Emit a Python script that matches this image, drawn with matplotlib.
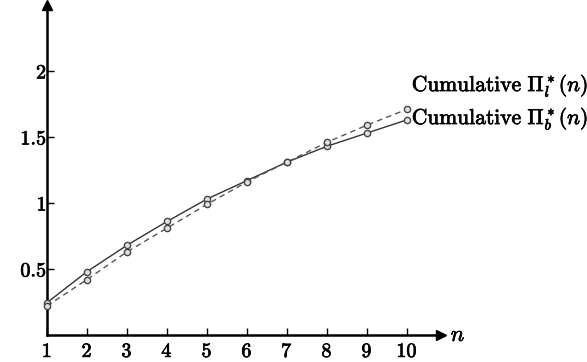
import matplotlib
matplotlib.use("Agg")
import matplotlib.pyplot as plt
import matplotlib.patheffects as pe

plt.rcParams['mathtext.fontset'] = 'cm'

# data
n = [1, 2, 3, 4, 5, 6, 7, 8, 9, 10]
pi_b = [0.245, 0.48, 0.68, 0.86, 1.03, 1.17, 1.31, 1.43, 1.53, 1.63]
pi_l = [0.22, 0.42, 0.63, 0.81, 0.99, 1.16, 1.31, 1.46, 1.59, 1.71]
xticks = [1, 2, 3, 4, 5, 6, 7, 8, 9, 10]
xticklabels = ['1', '2', '3', '4', '5', '6', '7', '8', '9', '10']
yticks = [0.5, 1, 1.5, 2]
yticklabels = ['0.5', '1', '1.5', '2']
label_l = r'$\mathrm{Cumulative}\ \Pi^*_l(n)$'
label_b = r'$\mathrm{Cumulative}\ \Pi^*_b(n)$'

bold = [pe.withStroke(linewidth=0.5, foreground='black')]

fig = plt.figure(figsize=(5.87, 3.62), dpi=100)
W, H = 587, 362
ax = fig.add_axes([47/W, (H-335)/H, (441-47)/W, (335-5)/H])

ax.plot(n, pi_b, '-', color='#333333', lw=1.0, marker='o', ms=4.5,
        mfc='#e0e0e0', mec='#444444', mew=1.0, clip_on=False, zorder=3)
ax.plot(n, pi_l, '--', color='#555555', lw=1.0, dashes=(4, 3), marker='o', ms=4.5,
        mfc='#e0e0e0', mec='#444444', mew=1.0, clip_on=False, zorder=3)

ax.set_xlim(1, 10.85)
ax.set_ylim(0, 2.5)

for s in ['top', 'right']:
    ax.spines[s].set_visible(False)
for s in ['left', 'bottom']:
    ax.spines[s].set_linewidth(1.8)
    ax.spines[s].set_color('black')

# arrow heads
ax.plot(1, 0, '>', color='black', ms=7, transform=ax.transAxes, clip_on=False)
ax.plot(0, 1, '^', color='black', ms=7, transform=ax.transAxes, clip_on=False)

ax.set_xticks(xticks)
ax.set_xticklabels(['$%s$' % t for t in xticklabels], fontsize=14.5)
ax.set_yticks(yticks)
ax.set_yticklabels(['$%s$' % t for t in yticklabels], fontsize=14.5)
ax.tick_params(axis='both', direction='in', length=5, width=1.0, color='black')
ax.tick_params(axis='x', pad=5)
ax.tick_params(axis='y', pad=0)
for lab in ax.get_xticklabels() + ax.get_yticklabels():
    lab.set_path_effects(bold)

ax.text(1.025, 0, '$n$', transform=ax.transAxes, fontsize=16, ha='left', va='center',
        path_effects=bold)

ax.text(10.12, 1.89, label_l, fontsize=15.5, ha='left', va='center', path_effects=bold)
ax.text(10.12, 1.64, label_b, fontsize=15.5, ha='left', va='center', path_effects=bold)

fig.savefig('out.png', dpi=100)
